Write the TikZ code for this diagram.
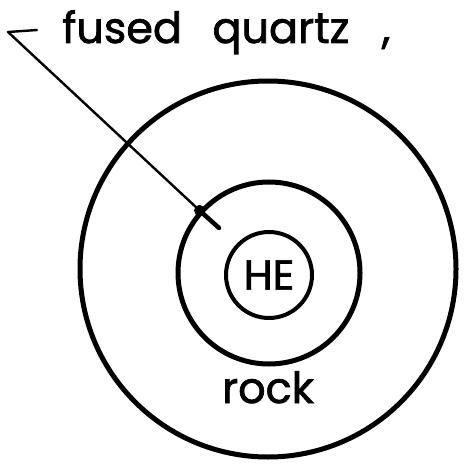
\documentclass[tikz,border=0pt]{standalone}
\usepackage{fontspec}
\setmainfont{Poppins}
\newfontfamily\drafting{Poppins}[FakeBold=1.6]
\usetikzlibrary{positioning}

\begin{document}
\begin{tikzpicture}[
  x=1pt,y=-1pt,
  ring/.style={draw,circle,line width=5pt,inner sep=0pt},
  lettering/.style={inner sep=0pt,font=\drafting\fontsize{43}{46}\selectfont},
  leader/.style={line width=2.4pt,line cap=round,line join=round}
]
\useasboundingbox (0,0) rectangle (464,470);
\node[ring,minimum size=376pt] (outer) at (268,269) {};
\node[ring,minimum size=182pt] (mid) at (269,273) {};
\node[ring,minimum size=86pt,line width=4pt,lettering,font=\drafting\fontsize{42}{44}\selectfont] (he) at (269,275) {HE};
\node[lettering,anchor=base] (rock) at (268,403) {rock};
\node[lettering,anchor=base west] (fused) at (62,43) {fused};
\node[lettering,base right=30pt of fused] (quartz) {quartz};
\node[lettering,base right=32pt of quartz] (comma) {,};
\coordinate (tick) at (37,30);
\coordinate (tail) at (8,32);
\coordinate (tip) at (219,228);
\draw[leader] (tick) -- (tail) -- (mid.138);
\draw[line width=4.5pt,line cap=round] (mid.138) -- (tip);
\fill (mid.138) circle (5.5pt);
\end{tikzpicture}
\end{document}
